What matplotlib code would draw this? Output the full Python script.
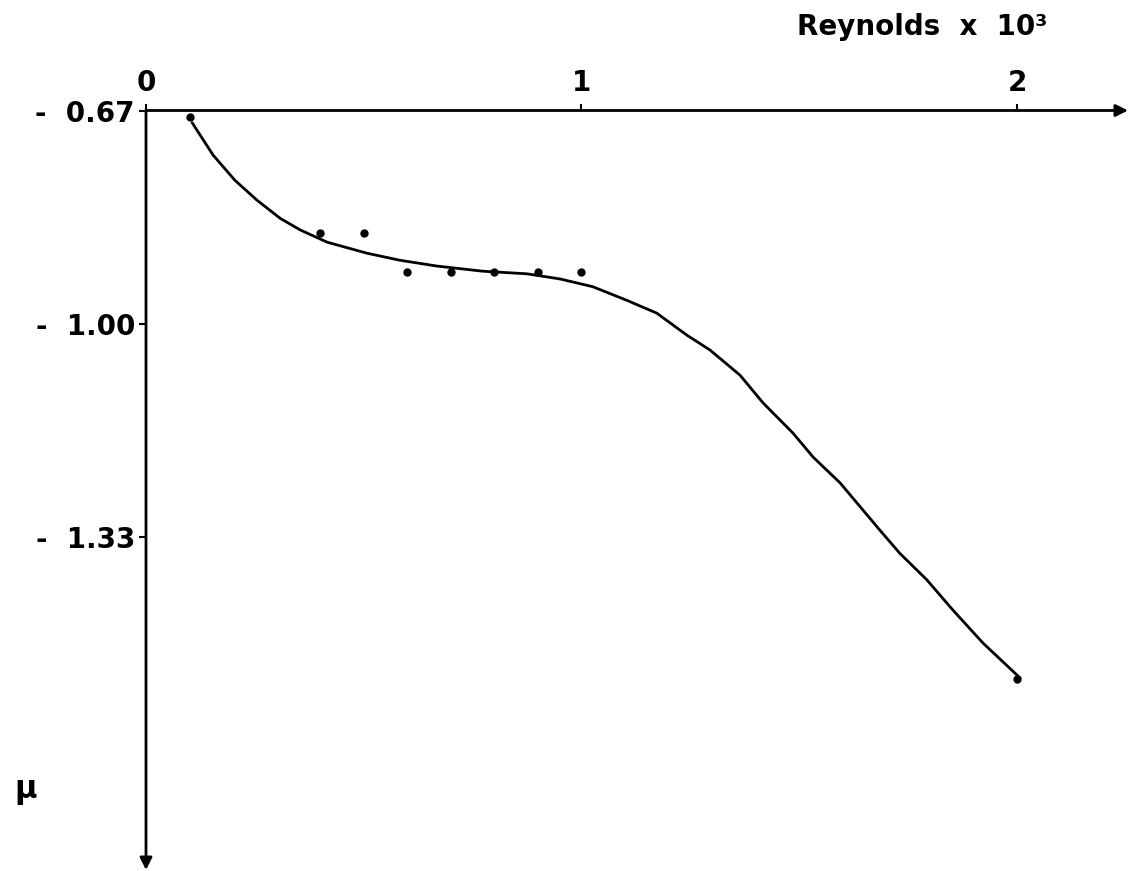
import matplotlib
matplotlib.use('Agg')
import matplotlib.pyplot as plt

# measured points (Reynolds x 10^3, mu)
re_pts = [0.10, 0.40, 0.50, 0.60, 0.70, 0.80, 0.90, 1.00, 2.00]
mu_pts = [-0.68, -0.86, -0.86, -0.92, -0.92, -0.92, -0.92, -0.92, -1.55]

# hand-drawn curve
re_curve = [0.106, 0.154, 0.204, 0.255, 0.308, 0.354, 0.416, 0.507, 0.583, 0.668,
            0.774, 0.875, 0.951, 1.026, 1.104, 1.173, 1.242, 1.295, 1.364, 1.417,
            1.486, 1.532, 1.594, 1.685, 1.731, 1.793, 1.853, 1.922, 2.007]
mu_curve = [-0.689, -0.739, -0.778, -0.809, -0.837, -0.855, -0.874, -0.891, -0.902, -0.911,
            -0.919, -0.923, -0.931, -0.943, -0.964, -0.984, -1.018, -1.041, -1.080, -1.123,
            -1.170, -1.207, -1.247, -1.320, -1.356, -1.397, -1.444, -1.495, -1.549]

x_ticks = [0, 1, 2]
x_labels = ['0', '1', '2']
y_ticks = [-0.67, -1.00, -1.33]
y_labels = ['-  0.67', '-  1.00', '-  1.33']

W, H = 1132, 871
fig = plt.figure(figsize=(W / 100, H / 100), dpi=100)
ax = fig.add_axes([146 / W, 1 / H, 982 / W, 759.5 / H])
ax.set_xlim(0, 2.255)
ax.set_ylim(-1.8466, -0.67)

for s in ax.spines.values():
    s.set_visible(False)

# axes with arrow heads
ax.annotate('', xy=(2.255, -0.67), xytext=(0, -0.67),
            arrowprops=dict(arrowstyle='-|>', lw=2, color='black', mutation_scale=18,
                            shrinkA=0, shrinkB=0), annotation_clip=False)
ax.annotate('', xy=(0, -1.8466), xytext=(0, -0.67),
            arrowprops=dict(arrowstyle='-|>', lw=2, color='black', mutation_scale=18,
                            shrinkA=0, shrinkB=0), annotation_clip=False)

ax.plot(re_curve, mu_curve, color='black', lw=2, solid_capstyle='round',
        solid_joinstyle='round')
ax.plot(re_pts, mu_pts, 'o', color='black', ms=5)

font = dict(fontsize=20, fontweight='bold', family='DejaVu Sans')
ax.xaxis.tick_top()
ax.set_xticks(x_ticks)
ax.set_xticklabels(x_labels, **font)
ax.tick_params(axis='x', direction='out', length=4, width=1.5, pad=6)
ax.set_yticks(y_ticks)
ax.set_yticklabels(y_labels, **font)
ax.tick_params(axis='y', direction='out', length=5, width=1.5, pad=3)

fig.text(797 / W, 1 - 27 / H, 'Reynolds  x  10³', ha='left', va='center', **font)
fig.text(26 / W, 1 - 790 / H, 'μ', ha='center', va='center', fontsize=22,
         fontweight='bold')

fig.savefig('out.png', dpi=100)
